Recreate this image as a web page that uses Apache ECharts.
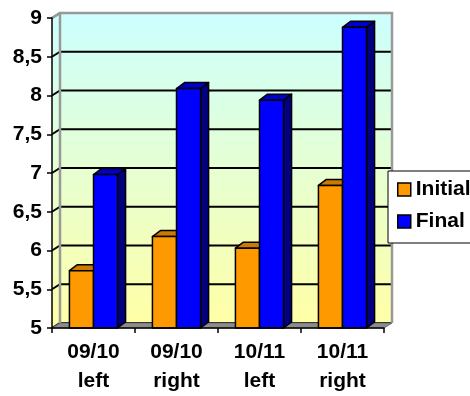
<!DOCTYPE html>
<html>
<head>
<meta charset="utf-8">
<script src="https://cdn.jsdelivr.net/npm/echarts@6/dist/echarts.min.js"></script>
<style>
  html, body { margin: 0; padding: 0; background: #fff; }
  #chart { width: 470px; height: 396px; }
</style>
</head>
<body>
<div id="chart"></div>
<script>
// Category labels (two-line: season / side)
const categories = ['09/10\nleft', '09/10\nright', '10/11\nleft', '10/11\nright'];
// Series values
const initialValues = [5.74, 6.18, 6.03, 6.84];
const finalValues = [6.98, 8.09, 7.94, 8.88];
const seriesNames = ['Initial', 'Final'];
// Value axis range and step
const yMin = 5;
const yMax = 9;
const yStep = 0.5;

const FONT = "'Liberation Sans', Arial, sans-serif";
const FONT_SIZE = 21;
const WALL_DX = 8, WALL_DY = 5;   // depth offset of the back wall
const BAR_DX = 8, BAR_DY = 6;     // depth offset of bar boxes

const faceColors = {
  Initial: { front: '#FF9900', top: '#CC7A00', side: '#995C00' },
  Final:   { front: '#0000FF', top: '#0000CC', side: '#000080' }
};

// Walls, floor and gridlines of the 3D plot box
function renderWalls(params, api) {
  const cs = params.coordSys;
  const x0 = cs.x, x1 = cs.x + cs.width;
  const yTop = cs.y, yBot = cs.y + cs.height;
  const children = [];
  const grad = new echarts.graphic.LinearGradient(0, 0, 0, 1, [
    { offset: 0, color: '#CCFFFF' },
    { offset: 1, color: '#FFFFA6' }
  ]);
  // back wall
  children.push({
    type: 'rect',
    shape: { x: x0 + WALL_DX, y: yTop - WALL_DY, width: cs.width, height: cs.height },
    style: { fill: grad, stroke: null }
  });
  // left side wall
  children.push({
    type: 'polygon',
    shape: { points: [[x0, yTop], [x0 + WALL_DX, yTop - WALL_DY], [x0 + WALL_DX, yBot - WALL_DY], [x0, yBot]] },
    style: { fill: grad, stroke: null }
  });
  // gridlines on both walls
  for (let v = yMin; v <= yMax + 1e-9; v += yStep) {
    const y = api.coord([0, v])[1];
    children.push({
      type: 'polyline',
      shape: { points: [[x0, y], [x0 + WALL_DX, y - WALL_DY], [x1 + WALL_DX, y - WALL_DY]] },
      style: { stroke: '#000', lineWidth: 2, fill: null }
    });
  }
  // floor
  children.push({
    type: 'polygon',
    shape: { points: [[x0, yBot], [x0 + WALL_DX, yBot - WALL_DY], [x1 + WALL_DX, yBot - WALL_DY], [x1, yBot]] },
    style: { fill: '#8C8C8C', stroke: '#6E6E6E', lineWidth: 1 }
  });
  // wall borders
  children.push({
    type: 'polyline',
    shape: { points: [[x0, yTop], [x0 + WALL_DX, yTop - WALL_DY], [x1 + WALL_DX, yTop - WALL_DY], [x1 + WALL_DX, yBot - WALL_DY]] },
    style: { stroke: '#999999', lineWidth: 2.5, fill: null }
  });
  children.push({
    type: 'line',
    shape: { x1: x0 + WALL_DX, y1: yTop - WALL_DY, x2: x0 + WALL_DX, y2: yBot - WALL_DY },
    style: { stroke: '#999999', lineWidth: 2.5 }
  });
  return { type: 'group', children: children };
}

// A 3D box bar: front face, top face and right side face
function makeBarRenderer(name, sideIndex) {
  const c = faceColors[name];
  return function (params, api) {
    const idx = api.value(0);
    const val = api.value(1);
    const top = api.coord([idx, val]);
    const base = api.coord([idx, yMin]);
    const w = api.size([1, 0])[0] * 0.29;
    const x = sideIndex === 0 ? top[0] - w : top[0];
    const yT = top[1], yB = base[1];
    const border = { stroke: '#000', lineWidth: 1.5, lineJoin: 'round' };
    return {
      type: 'group',
      children: [
        {
          type: 'polygon',
          shape: { points: [[x + w, yT], [x + w + BAR_DX, yT - BAR_DY], [x + w + BAR_DX, yB - BAR_DY], [x + w, yB]] },
          style: Object.assign({ fill: c.side }, border)
        },
        {
          type: 'polygon',
          shape: { points: [[x, yT], [x + BAR_DX, yT - BAR_DY], [x + w + BAR_DX, yT - BAR_DY], [x + w, yT]] },
          style: Object.assign({ fill: c.top }, border)
        },
        {
          type: 'rect',
          shape: { x: x, y: yT, width: w, height: yB - yT },
          style: Object.assign({ fill: c.front }, border)
        }
      ]
    };
  };
}

const chart = echarts.init(document.getElementById('chart'), null, { renderer: 'canvas' });

chart.setOption({
  animation: false,
  backgroundColor: '#fff',
  grid: { left: 52, right: 86, top: 18, bottom: 63, containLabel: false },
  legend: {
    data: seriesNames.map(function (n) {
      return { name: n, icon: 'rect', itemStyle: { color: faceColors[n].front, borderColor: '#000', borderWidth: 1.5 } };
    }),
    orient: 'vertical',
    left: 388,
    top: 171,
    itemWidth: 13,
    itemHeight: 13,
    itemGap: 11,
    padding: [8, 30, 11, 9],
    borderColor: '#000',
    borderWidth: 1,
    backgroundColor: '#fff',
    textStyle: { fontFamily: FONT, fontSize: FONT_SIZE, fontWeight: 'bold', color: '#000' }
  },
  xAxis: {
    type: 'category',
    data: categories,
    z: 10,
    axisLine: { lineStyle: { color: '#000', width: 1.5 } },
    axisTick: { show: true, length: 5, lineStyle: { color: '#000', width: 1.5 } },
    axisLabel: {
      margin: 10,
      fontFamily: FONT, fontSize: FONT_SIZE, fontWeight: 'bold', color: '#000',
      lineHeight: 29, interval: 0
    },
    splitLine: { show: false }
  },
  yAxis: {
    type: 'value',
    min: yMin,
    max: yMax,
    interval: yStep,
    z: 10,
    axisLine: { show: true, lineStyle: { color: '#000', width: 1.5 } },
    axisTick: { show: true, length: 5, lineStyle: { color: '#000', width: 1.5 } },
    axisLabel: {
      margin: 10,
      fontFamily: FONT, fontSize: FONT_SIZE, fontWeight: 'bold', color: '#000',
      formatter: function (v) { return String(v).replace('.', ','); }
    },
    splitLine: { show: false }
  },
  series: [
    {
      name: 'walls',
      type: 'custom',
      z: 1,
      silent: true,
      renderItem: renderWalls,
      data: [[0, yMin]]
    },
    {
      name: seriesNames[0],
      type: 'custom',
      z: 3,
      itemStyle: { color: faceColors.Initial.front },
      renderItem: makeBarRenderer('Initial', 0),
      data: initialValues.map(function (v, i) { return [i, v]; })
    },
    {
      name: seriesNames[1],
      type: 'custom',
      z: 4,
      itemStyle: { color: faceColors.Final.front },
      renderItem: makeBarRenderer('Final', 1),
      data: finalValues.map(function (v, i) { return [i, v]; })
    }
  ]
});
</script>
</body>
</html>
